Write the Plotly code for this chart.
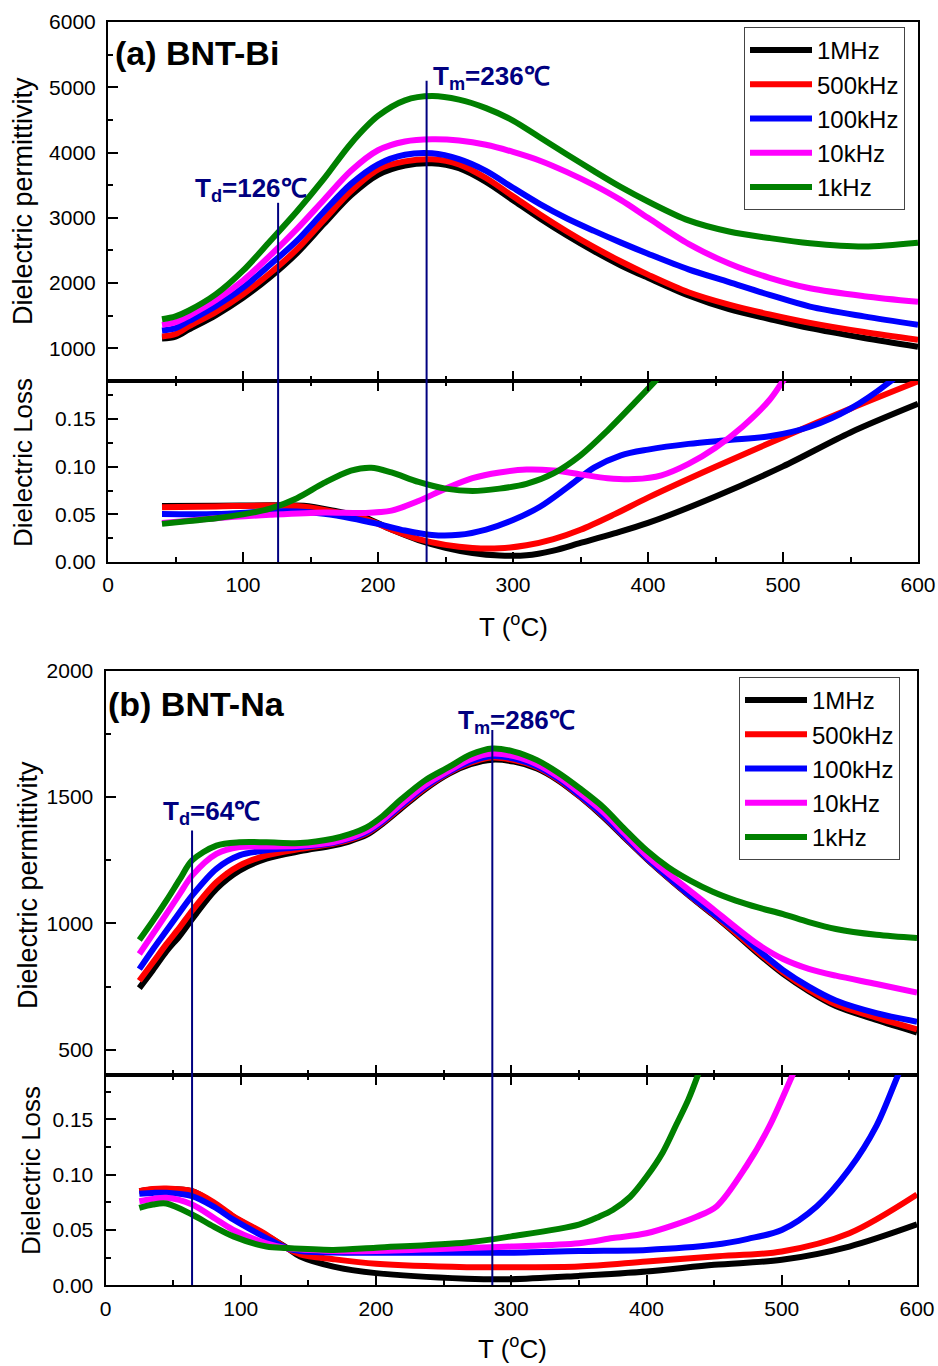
import plotly.graph_objects as go

W, H = 938, 1366

FREQS = ["1MHz", "500kHz", "100kHz", "10kHz", "1kHz"]
COLORS = ["#000000", "#ff0000", "#0000ff", "#ff00ff", "#008000"]
NAVY = "#000080"
FONT = "Arial, 'Liberation Sans', sans-serif"

# ---------------- (a) BNT-Bi : permittivity ----------------
T_PERM_A = [40, 50, 60, 80, 100, 120, 140, 160, 180, 200, 220, 240, 260, 280, 300, 320, 340,
            360, 380, 400, 430, 460, 490, 520, 560, 600]
PERM_A = {
    "1MHz":   [1150, 1180, 1290, 1510, 1775, 2090, 2460, 2908, 3345, 3660, 3802, 3836, 3760, 3550,
               3270, 2990, 2730, 2490, 2270, 2080, 1810, 1600, 1450, 1310, 1160, 1025],
    "500kHz": [1183, 1220, 1340, 1560, 1830, 2150, 2520, 2969, 3410, 3740, 3864, 3897, 3820, 3610,
               3330, 3050, 2790, 2550, 2330, 2130, 1860, 1670, 1520, 1390, 1250, 1132],
    "100kHz": [1275, 1310, 1420, 1650, 1930, 2280, 2650, 3097, 3520, 3820, 3966, 3988, 3900, 3720,
               3460, 3210, 2990, 2800, 2620, 2450, 2210, 2015, 1820, 1640, 1490, 1362],
    "10kHz":  [1360, 1400, 1500, 1740, 2040, 2420, 2830, 3276, 3720, 4035, 4170, 4204, 4185, 4120,
               4010, 3875, 3700, 3500, 3270, 3000, 2600, 2300, 2080, 1920, 1800, 1714],
    "1kHz":   [1445, 1490, 1580, 1830, 2190, 2640, 3100, 3600, 4140, 4560, 4800, 4865, 4810, 4680,
               4490, 4230, 3970, 3715, 3470, 3250, 2960, 2790, 2690, 2610, 2560, 2617],
}

# ---------------- (a) BNT-Bi : loss ----------------
T_LOSS_A = {
    "1MHz":   [40, 80, 120, 145, 170, 190, 210, 230, 250, 270, 290, 310, 330, 350, 375, 400, 450, 500, 550, 600],
    "500kHz": [40, 80, 120, 145, 170, 190, 210, 230, 250, 270, 290, 310, 330, 350, 375, 400, 450, 500, 550, 600],
    "100kHz": [40, 80, 120, 140, 160, 180, 200, 220, 240, 260, 280, 300, 320, 340, 360, 380, 400, 430,
               460, 490, 520, 550, 580, 600],
    "10kHz":  [40, 80, 120, 160, 190, 210, 230, 250, 270, 290, 310, 330, 350, 370, 390, 410, 430, 450,
               470, 490, 500, 515],
    "1kHz":   [40, 60, 80, 100, 120, 140, 160, 180, 195, 210, 230, 250, 270, 290, 310, 330, 350, 370,
               390, 410, 420],
}
LOSS_A = {
    "1MHz":   [0.0587, 0.059, 0.0595, 0.059, 0.053, 0.047, 0.034, 0.023, 0.015, 0.0095, 0.0068, 0.007,
               0.012, 0.020, 0.030, 0.041, 0.0687, 0.1004, 0.136, 0.166],
    "500kHz": [0.0574, 0.0583, 0.0592, 0.058, 0.052, 0.0455, 0.034, 0.024, 0.018, 0.0148, 0.0145,
               0.0175, 0.024, 0.0338, 0.050, 0.0676, 0.100, 0.131, 0.161, 0.1896],
    "100kHz": [0.0504, 0.0504, 0.053, 0.053, 0.0505, 0.046, 0.040, 0.033, 0.0283, 0.0285, 0.034, 0.044,
               0.058, 0.078, 0.099, 0.112, 0.118, 0.124, 0.128, 0.132, 0.142, 0.161, 0.19, 0.215],
    "10kHz":  [0.041, 0.046, 0.0495, 0.052, 0.0515, 0.054, 0.064, 0.077, 0.088, 0.094, 0.097, 0.096,
               0.092, 0.088, 0.087, 0.091, 0.103, 0.120, 0.142, 0.170, 0.19, 0.22],
    "1kHz":   [0.040, 0.043, 0.046, 0.050, 0.056, 0.067, 0.083, 0.096, 0.099, 0.094, 0.084, 0.077,
               0.0745, 0.077, 0.082, 0.093, 0.112, 0.138, 0.167, 0.197, 0.213],
}

# ---------------- (b) BNT-Na : permittivity ----------------
T_PERM_B = [25, 35, 45, 55, 64, 82, 99, 119, 144, 168, 180, 193, 205, 218, 236, 254, 270, 286, 302,
            319, 335, 351, 368, 384, 400, 416, 432, 449, 466, 483, 501, 520, 540, 570, 600]
PERM_B = {
    "1MHz":   [744, 815, 889, 952, 1017, 1137, 1209, 1256, 1286, 1308, 1324, 1350, 1395, 1452, 1530,
               1593, 1630, 1648, 1640, 1613, 1565, 1500, 1421, 1338, 1256, 1180, 1108, 1035, 958, 878,
               800, 732, 673, 618, 568],
    "500kHz": [773, 845, 918, 985, 1050, 1163, 1229, 1269, 1295, 1315, 1330, 1356, 1400, 1458, 1535,
               1597, 1636, 1656, 1646, 1618, 1568, 1502, 1425, 1340, 1258, 1182, 1110, 1038, 962, 884,
               806, 738, 680, 627, 581],
    "100kHz": [819, 897, 971, 1045, 1110, 1216, 1269, 1289, 1302, 1318, 1334, 1360, 1404, 1463, 1540,
               1600, 1641, 1662, 1652, 1622, 1572, 1505, 1428, 1343, 1260, 1184, 1112, 1042, 971, 893,
               815, 750, 695, 645, 611],
    "10kHz":  [879, 958, 1037, 1118, 1189, 1275, 1302, 1304, 1307, 1321, 1338, 1366, 1410, 1470, 1547,
               1605, 1650, 1672, 1662, 1630, 1580, 1515, 1441, 1355, 1269, 1198, 1130, 1058, 984, 915,
               859, 820, 793, 760, 726],
    "1kHz":   [934, 1010, 1090, 1175, 1249, 1308, 1321, 1321, 1318, 1335, 1352, 1380, 1425, 1488, 1565,
               1619, 1668, 1692, 1680, 1646, 1595, 1533, 1460, 1372, 1289, 1222, 1170, 1125, 1090, 1062,
               1037, 1005, 978, 955, 942],
}

# ---------------- (b) BNT-Na : loss ----------------
T_LOSS_B = {
    "1MHz":   [25, 35, 45, 64, 80, 94.5, 119, 134, 144, 168.5, 200, 267, 300, 350, 400, 450, 500, 550, 600],
    "500kHz": [25, 35, 45, 64, 80, 94.5, 119, 134, 144, 168.5, 200, 267, 300, 350, 400, 450, 500, 550, 600],
    "100kHz": [25, 35, 45, 64, 80, 94.5, 119, 134, 144, 168.5, 200, 267, 300, 350, 400, 450, 475, 500,
               526, 550, 570, 586, 600],
    "10kHz":  [25, 35, 45, 64, 80, 94.5, 119, 134, 168.5, 200, 267, 300, 350, 375, 400, 437, 452, 474,
               491, 508, 520],
    "1kHz":   [25, 35, 45, 64, 80, 94.5, 119, 134, 168.5, 200, 267, 300, 350, 365, 375, 388, 400, 412,
               422, 431, 438, 445],
}
LOSS_B = {
    "1MHz":   [0.085, 0.0865, 0.087, 0.085, 0.074, 0.062, 0.045, 0.034, 0.026, 0.0169, 0.011, 0.006,
               0.0055, 0.0085, 0.0124, 0.0185, 0.023, 0.035, 0.055],
    "500kHz": [0.0851, 0.087, 0.0875, 0.085, 0.075, 0.0624, 0.0457, 0.0336, 0.028, 0.0236, 0.0194,
               0.0164, 0.0164, 0.017, 0.0215, 0.026, 0.0305, 0.047, 0.082],
    "100kHz": [0.0827, 0.0835, 0.0836, 0.0806, 0.071, 0.0594, 0.0427, 0.0336, 0.031, 0.0296, 0.0294,
               0.0294, 0.0294, 0.031, 0.032, 0.0366, 0.042, 0.050, 0.0715, 0.105, 0.144, 0.19, 0.23],
    "10kHz":  [0.076, 0.078, 0.079, 0.073, 0.061, 0.050, 0.038, 0.0336, 0.031, 0.031, 0.0336, 0.035,
               0.038, 0.0427, 0.047, 0.062, 0.0715, 0.108, 0.144, 0.19, 0.222],
    "1kHz":   [0.070, 0.073, 0.0739, 0.064, 0.053, 0.0442, 0.035, 0.0336, 0.032, 0.034, 0.0387, 0.0442,
               0.0548, 0.062, 0.068, 0.080, 0.098, 0.120, 0.145, 0.168, 0.19, 0.215],
}

# transition temperatures and the height at which each marker line starts
TD_A, TM_A = 126, 236
TD_A_TOP, TM_A_TOP = 3230, 5100
TD_B, TM_B = 64, 286
TD_B_TOP, TM_B_TOP = 1368, 1765

X_TICKS = [0, 100, 200, 300, 400, 500, 600]


def px(x):
    return x / W


def py(y):
    return 1 - y / H


fig = go.Figure()

panels = [
    ("x", "y", T_PERM_A, PERM_A, "legend", True),
    ("x2", "y2", T_LOSS_A, LOSS_A, "legend", False),
    ("x3", "y3", T_PERM_B, PERM_B, "legend2", True),
    ("x4", "y4", T_LOSS_B, LOSS_B, "legend2", False),
]
for xa, ya, tdat, vals, leg, show in panels:
    for name, color in zip(FREQS, COLORS):
        tx = tdat if isinstance(tdat, list) else tdat[name]
        fig.add_trace(go.Scatter(
            x=tx, y=vals[name], mode="lines", name=name,
            line=dict(color=color, width=6, shape="spline", smoothing=0.9),
            xaxis=xa, yaxis=ya, legend=leg, showlegend=show,
        ))

axis_common = dict(
    showline=True, linecolor="black", linewidth=2,
    ticks="inside", tickcolor="black", tickwidth=2, ticklen=10,
    showgrid=False, zeroline=False, automargin=False,
    tickfont=dict(family=FONT, size=21, color="black"),
)
minor_style = dict(ticks="inside", ticklen=5, tickwidth=2, tickcolor="black", showgrid=False)

xa_dom = [px(108), px(918)]
xb_dom = [px(105.5), px(917)]

layout = dict(
    template="none",
    width=W, height=H, autosize=False,
    margin=dict(l=0, r=0, t=0, b=0, pad=0),
    paper_bgcolor="white", plot_bgcolor="white",
    font=dict(family=FONT, color="black"),
)

# panel (a)
layout["xaxis"] = dict(axis_common, domain=xa_dom, anchor="y", range=[0, 600],
                       tickvals=X_TICKS, showticklabels=False, mirror=True,
                       minor=dict(minor_style, dtick=50))
layout["yaxis"] = dict(axis_common, domain=[py(381), py(22)], anchor="x", range=[500, 6000],
                       tick0=0, dtick=1000, mirror=True, ticklabelstandoff=6,
                       minor=dict(minor_style, dtick=500))
layout["xaxis2"] = dict(axis_common, domain=xa_dom, anchor="y2", range=[0, 600],
                        tickvals=X_TICKS, mirror="ticks", ticklabelstandoff=3,
                        minor=dict(minor_style, dtick=50))
layout["yaxis2"] = dict(axis_common, domain=[py(562), py(381)], anchor="x2", range=[0, 0.19],
                        tick0=0, dtick=0.05, tickformat=".2f", mirror=True, ticklabelstandoff=6,
                        minor=dict(minor_style, dtick=0.025))

# panel (b)
layout["xaxis3"] = dict(axis_common, domain=xb_dom, anchor="y3", range=[0, 600],
                        tickvals=X_TICKS, showticklabels=False, mirror=True,
                        minor=dict(minor_style, dtick=50))
layout["yaxis3"] = dict(axis_common, domain=[py(1075), py(670.7)], anchor="x3", range=[400, 2000],
                        tick0=0, dtick=500, mirror=True, ticklabelstandoff=6,
                        minor=dict(minor_style, dtick=250))
layout["xaxis4"] = dict(axis_common, domain=xb_dom, anchor="y4", range=[0, 600],
                        tickvals=X_TICKS, mirror="ticks", ticklabelstandoff=3,
                        minor=dict(minor_style, dtick=50))
layout["yaxis4"] = dict(axis_common, domain=[py(1285.3), py(1075)], anchor="x4", range=[0, 0.19],
                        tick0=0, dtick=0.05, tickformat=".2f", mirror=True, ticklabelstandoff=6,
                        minor=dict(minor_style, dtick=0.025))

legend_style = dict(
    xanchor="left", yanchor="top", bgcolor="white",
    bordercolor="#444444", borderwidth=1,
    font=dict(family=FONT, size=24, color="black"),
    itemwidth=62, tracegroupgap=0,
)
layout["legend"] = dict(legend_style, x=px(744), y=py(27))
layout["legend2"] = dict(legend_style, x=px(739), y=py(677))

fig.update_layout(**layout)

# marker lines for T_d and T_m (each spans the permittivity and loss plots)
markers = [
    (TD_A, TD_A_TOP, "x", "y", "x2", "y2", 500, 0.19),
    (TM_A, TM_A_TOP, "x", "y", "x2", "y2", 500, 0.19),
    (TD_B, TD_B_TOP, "x3", "y3", "x4", "y4", 400, 0.19),
    (TM_B, TM_B_TOP, "x3", "y3", "x4", "y4", 400, 0.19),
]
for t, top, xu, yu, xl, yl, ymin, lossmax in markers:
    fig.add_shape(type="line", xref=xu, yref=yu, x0=t, x1=t, y0=ymin, y1=top,
                  line=dict(color=NAVY, width=2))
    fig.add_shape(type="line", xref=xl, yref=yl, x0=t, x1=t, y0=0, y1=lossmax,
                  line=dict(color=NAVY, width=2))


def label(text, x, y, size, color="black", angle=0, xanchor="left", yanchor="middle", bold=False):
    if bold:
        text = "<b>" + text + "</b>"
    fig.add_annotation(text=text, x=px(x), y=py(y), xref="paper", yref="paper",
                       showarrow=False, textangle=angle, xanchor=xanchor, yanchor=yanchor,
                       font=dict(family=FONT, size=size, color=color))


label("(a) BNT-Bi", 113, 53, 34, bold=True)
label("(b) BNT-Na", 106, 704, 34, bold=True)
label("T<sub>d</sub>=126℃", 193, 189, 26, color=NAVY, bold=True)
label("T<sub>m</sub>=236℃", 431, 77, 26, color=NAVY, bold=True)
label("T<sub>d</sub>=64℃", 161, 812, 26, color=NAVY, bold=True)
label("T<sub>m</sub>=286℃", 456, 721, 26, color=NAVY, bold=True)

label("Dielectric permittivity", 23, 201, 27, angle=-90, xanchor="center")
label("Dielectric Loss", 23, 463, 26, angle=-90, xanchor="center")
label("T (<sup>o</sup>C)", 513, 626, 26, xanchor="center")
label("Dielectric permittivity", 28, 885, 27, angle=-90, xanchor="center")
label("Dielectric Loss", 31, 1171, 26, angle=-90, xanchor="center")
label("T (<sup>o</sup>C)", 512, 1347, 26, xanchor="center")

fig.write_html("out.html")
